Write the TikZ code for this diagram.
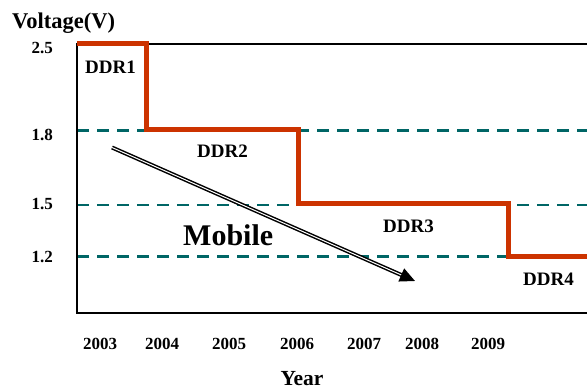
\documentclass[tikz,border=0pt]{standalone}
\usepackage{fontspec}
\setmainfont{Liberation Serif}
\usetikzlibrary{arrows.meta}
\definecolor{ddrred}{RGB}{204,51,0}
\definecolor{gridteal}{RGB}{0,102,102}
\begin{document}
\begin{tikzpicture}[x=1pt, y=-1pt,
    tick/.style  = {font=\fontsize{17}{20}\selectfont\bfseries, inner sep=0},
    ddr/.style   = {font=\fontsize{19}{22}\selectfont\bfseries, inner sep=0, anchor=base west},
    level/.style = {draw=gridteal, dash pattern=on 11.7pt off 8.3pt}]
    \useasboundingbox (0,0) rectangle (587,388);

    \draw[level, line width=3pt] (77,130.5) -- (587,130.5);
    \draw[level, line width=2pt] (77,205)   -- (587,205);
    \draw[level, line width=3pt] (77,256.5) -- (587,256.5);

    \draw[line width=2pt] (587,44) -- (77,44) -- (77,313) -- (587,313);

    \draw[ddrred, line width=5pt] (77,43.5) -| (146,129.5) -| (298,203.5) -| (508.5,256.5) -- (587,256.5);

    \node[tick, anchor=base west] (volt) at (12,28) {\fontsize{22.5}{24}\selectfont Voltage(V)};
    \node[tick, anchor=base east] (v25) at (53,53)  {2.5};
    \node[tick, anchor=base east] (v18) at (53,140) {1.8};
    \node[tick, anchor=base east] (v15) at (53,209) {1.5};
    \node[tick, anchor=base east] (v12) at (53,262) {1.2};

    \node[ddr] (ddr1) at (85,73)   {DDR1};
    \node[ddr] (ddr2) at (197,157) {DDR2};
    \node[ddr] (ddr3) at (383,232) {DDR3};
    \node[ddr] (ddr4) at (523,285) {DDR4};

    \node[tick, anchor=base] (y03) at (100,349) {2003};
    \node[tick, anchor=base] (y04) at (162,349) {2004};
    \node[tick, anchor=base] (y05) at (229,349) {2005};
    \node[tick, anchor=base] (y06) at (297,349) {2006};
    \node[tick, anchor=base] (y07) at (364,349) {2007};
    \node[tick, anchor=base] (y08) at (422,349) {2008};
    \node[tick, anchor=base] (y09) at (488,349) {2009};
    \node[tick, anchor=base] (year) at (302,385) {\fontsize{21.5}{24}\selectfont Year};

    \coordinate (mobS) at (112,147.5);
    \coordinate (mobE) at (415,281);
    \draw[-{Triangle[length=15pt, width=14pt]}, line width=1.5pt, double=white, double distance=1pt] (mobS) -- (mobE);
    \node[tick, anchor=base west] (mobile) at (183,245) {\fontsize{30}{32}\selectfont Mobile};
\end{tikzpicture}
\end{document}
